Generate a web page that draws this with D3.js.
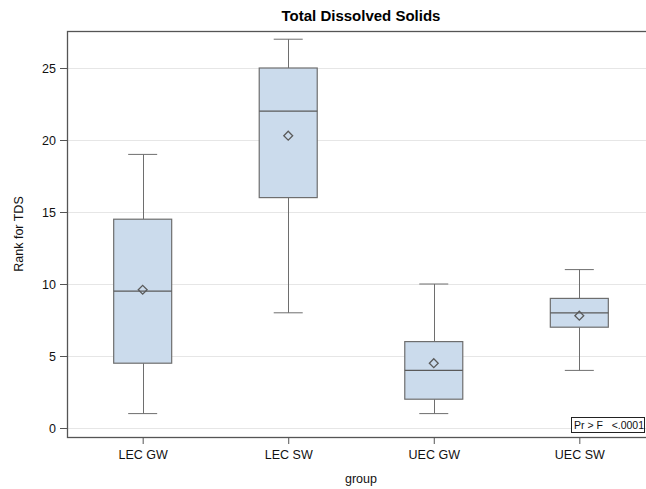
<!DOCTYPE html>
<html>
<head>
<meta charset="utf-8">
<script src="https://cdn.jsdelivr.net/npm/d3@7"></script>
<style>
  html, body { margin: 0; padding: 0; background: #fff; }
  svg { display: block; font-family: "Liberation Sans", Arial, sans-serif; }
</style>
</head>
<body>
<svg id="chart" width="646" height="489"></svg>
<script>
// Rank summaries for TDS by group
const groups  = ["LEC GW", "LEC SW", "UEC GW", "UEC SW"];
const mins    = [1, 8, 1, 4];
const q1s     = [4.5, 16, 2, 7];
const medians = [9.5, 22, 4, 8];
const q3s     = [14.5, 25, 6, 9];
const maxs    = [19, 27, 10, 11];
const means   = [9.6, 20.3, 4.5, 7.8];
const yTicks  = [0, 5, 10, 15, 20, 25];
const insetText = "Pr > F   <.0001";

const svg = d3.select("#chart");
const margin = { left: 67, top: 31, right: 655, bottom: 437 };

const x = d3.scalePoint()
  .domain(groups)
  .range([margin.left, margin.right])
  .padding(0.52);

const y = d3.scaleLinear()
  .domain([-0.625, 27.57])
  .range([margin.bottom, margin.top]);

const boxW = 58, capW = 29;
const fontStack = '"Liberation Sans", Arial, sans-serif';

// grid lines
svg.append("g")
  .selectAll("line")
  .data(yTicks)
  .join("line")
  .attr("x1", margin.left).attr("x2", margin.right)
  .attr("y1", d => Math.round(y(d)) + 0.5).attr("y2", d => Math.round(y(d)) + 0.5)
  .attr("stroke", "#e6e6e6").attr("stroke-width", 1);

const data = groups.map((g, i) => ({
  g, min: mins[i], q1: q1s[i], med: medians[i], q3: q3s[i], max: maxs[i], mean: means[i]
}));

const boxes = svg.append("g").selectAll("g").data(data).join("g");
const stroke = "#6e6e6e";

// whiskers
boxes.append("line")
  .attr("x1", d => Math.round(x(d.g)) + 0.5).attr("x2", d => Math.round(x(d.g)) + 0.5)
  .attr("y1", d => y(d.max)).attr("y2", d => y(d.q3))
  .attr("stroke", stroke);
boxes.append("line")
  .attr("x1", d => Math.round(x(d.g)) + 0.5).attr("x2", d => Math.round(x(d.g)) + 0.5)
  .attr("y1", d => y(d.q1)).attr("y2", d => y(d.min))
  .attr("stroke", stroke);
// caps
boxes.append("line")
  .attr("x1", d => x(d.g) - capW / 2).attr("x2", d => x(d.g) + capW / 2)
  .attr("y1", d => y(d.max)).attr("y2", d => y(d.max))
  .attr("stroke", stroke);
boxes.append("line")
  .attr("x1", d => x(d.g) - capW / 2).attr("x2", d => x(d.g) + capW / 2)
  .attr("y1", d => y(d.min)).attr("y2", d => y(d.min))
  .attr("stroke", stroke);
// box
boxes.append("rect")
  .attr("x", d => x(d.g) - boxW / 2)
  .attr("y", d => y(d.q3))
  .attr("width", boxW)
  .attr("height", d => y(d.q1) - y(d.q3))
  .attr("fill", "#cbdbec")
  .attr("stroke", stroke).attr("stroke-width", 1.2);
// median
boxes.append("line")
  .attr("x1", d => x(d.g) - boxW / 2).attr("x2", d => x(d.g) + boxW / 2)
  .attr("y1", d => y(d.med)).attr("y2", d => y(d.med))
  .attr("stroke", "#5a5a5a").attr("stroke-width", 1.2);
// mean marker
boxes.append("path")
  .attr("d", d3.symbol(d3.symbolDiamond2, 50))
  .attr("transform", d => `translate(${x(d.g)},${y(d.mean)})`)
  .attr("fill", "none")
  .attr("stroke", "#5a5a5a").attr("stroke-width", 1.3);

// axes
const yAxis = svg.append("g")
  .attr("transform", `translate(${margin.left},0)`)
  .call(d3.axisLeft(y).tickValues(yTicks).tickSize(7).tickPadding(4).tickSizeOuter(0));
const xAxis = svg.append("g")
  .attr("transform", `translate(0,${margin.bottom})`)
  .call(d3.axisBottom(x).tickSize(7).tickPadding(6).tickSizeOuter(0));

[yAxis, xAxis].forEach(a => {
  a.select(".domain").remove();
  a.selectAll("line").attr("stroke", "#555");
  a.selectAll("text").attr("fill", "#111").style("font-size", "12.5px")
    .style("font-family", fontStack);
});

// frame
svg.append("rect")
  .attr("x", margin.left + 0.5).attr("y", margin.top + 0.5)
  .attr("width", margin.right - margin.left).attr("height", margin.bottom - margin.top)
  .attr("fill", "none").attr("stroke", "#555").attr("stroke-width", 1.3);

// titles
svg.append("text")
  .attr("x", (margin.left + margin.right) / 2).attr("y", 21)
  .attr("text-anchor", "middle")
  .style("font-size", "15px").style("font-weight", "bold").attr("fill", "#000")
  .text("Total Dissolved Solids");

svg.append("text")
  .attr("transform", `translate(23,${(margin.top + margin.bottom) / 2}) rotate(-90)`)
  .attr("text-anchor", "middle")
  .style("font-size", "12.5px").attr("fill", "#111")
  .text("Rank for TDS");

svg.append("text")
  .attr("x", (margin.left + margin.right) / 2).attr("y", 483)
  .attr("text-anchor", "middle")
  .style("font-size", "12.5px").attr("fill", "#111")
  .text("group");

// inset statistic
const inset = svg.append("g");
inset.append("rect")
  .attr("x", 571.5).attr("y", 417.5)
  .attr("width", 73).attr("height", 15)
  .attr("fill", "#fff").attr("stroke", "#222").attr("stroke-width", 1);
inset.append("text")
  .attr("x", 574).attr("y", 429)
  .style("font-size", "10.5px").attr("fill", "#111")
  .style("white-space", "pre")
  .attr("xml:space", "preserve")
  .text(insetText);
</script>
</body>
</html>
